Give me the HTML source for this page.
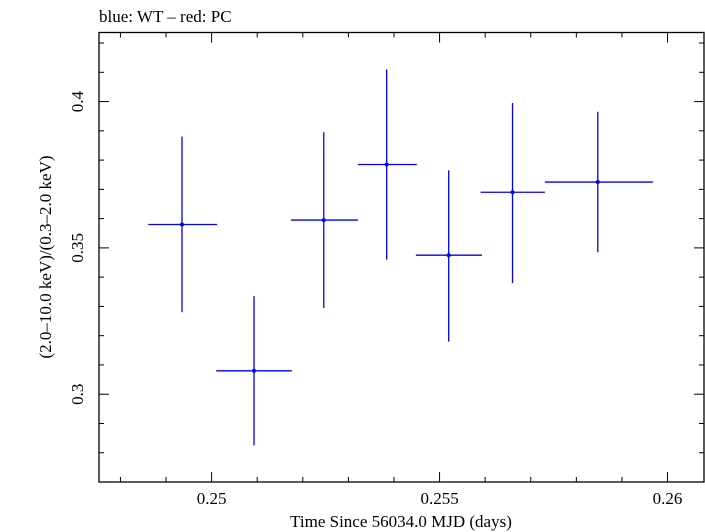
<!DOCTYPE html>
<html><head><meta charset="utf-8"><style>
body{margin:0;background:#fff}
svg{display:block;font-family:"Liberation Serif",serif}
</style></head><body>
<svg id="chart" width="705" height="532">
<text x="99" y="22" font-size="17">blue: WT – red: PC</text>
<rect x="99" y="32.5" width="605" height="449.5" fill="none" stroke="#000" stroke-width="1.3"/>
<g id="ticks"></g>
<g id="marks"></g>
<text x="401" y="527" font-size="17" text-anchor="middle">Time Since 56034.0 MJD (days)</text>
<text transform="translate(51,257) rotate(-90)" font-size="17" text-anchor="middle">(2.0–10.0 keV)/(0.3–2.0 keV)</text>
</svg>
<script>
const times=[0.24935,0.25093,0.25246,0.25384,0.25520,0.25660,0.25847];
const tLow=[0.24861,0.25010,0.25174,0.25321,0.25448,0.25590,0.25731];
const tHigh=[0.25012,0.25176,0.25321,0.25450,0.25593,0.25731,0.25968];
const ratios=[0.358,0.308,0.3595,0.3785,0.3475,0.369,0.3725];
const rLow=[0.328,0.2825,0.3295,0.346,0.318,0.338,0.3485];
const rHigh=[0.388,0.3335,0.3895,0.411,0.3765,0.3995,0.3965];
const xTickLabels=["0.25","0.255","0.26"];
const yTickLabels=["0.3","0.35","0.4"];
const X0=99,X1=704,Y0=482,Y1=32.5;
const xmin=0.24753,xmax=0.2608,ymin=0.27,ymax=0.4236;
const sx=v=>X0+(v-xmin)/(xmax-xmin)*(X1-X0);
const sy=v=>Y0-(v-ymin)/(ymax-ymin)*(Y0-Y1);
const NS="http://www.w3.org/2000/svg";
function mk(tag,attrs,parent){const e=document.createElementNS(NS,tag);for(const k in attrs)e.setAttribute(k,attrs[k]);parent.appendChild(e);return e;}
const tg=document.getElementById('ticks'),mg=document.getElementById('marks');
for(let i=248;i<=260;i++){const v=i/1000,x=sx(v);if(x<X0||x>X1)continue;const major=(i%5===0);const L=major?10:5;
 const a=mk('line',{x1:x,x2:x,y1:Y0,y2:Y0-L,stroke:'#000','stroke-width':1},tg);
 
 
 const b=mk('line',{x1:x,x2:x,y1:Y1,y2:Y1+L,stroke:'#000','stroke-width':1},tg);
 
 }
xTickLabels.forEach(s=>{const t=mk('text',{x:sx(parseFloat(s)),y:Y0+22,'font-size':17,'text-anchor':'middle'},tg);t.textContent=s;
 
 });
for(let i=28;i<=42;i++){const v=i/100,y=sy(v);if(y<Y1||y>Y0)continue;const major=(i%5===0);const L=major?10:5;
 const a=mk('line',{x1:X0,x2:X0+L,y1:y,y2:y,stroke:'#000','stroke-width':1},tg);
 
 
 const b=mk('line',{x1:X1,x2:X1-L,y1:y,y2:y,stroke:'#000','stroke-width':1},tg);
 
 }
yTickLabels.forEach(s=>{const y=sy(parseFloat(s));const t=mk('text',{transform:`translate(${X0-16},${y}) rotate(-90)`,'font-size':17,'text-anchor':'middle'},tg);t.textContent=s;
 
 });
times.forEach((t,i)=>{
 const g=mk('g',{},mg);
 
 
 mk('line',{x1:sx(tLow[i]),x2:sx(tHigh[i]),y1:sy(ratios[i]),y2:sy(ratios[i]),stroke:'#0000ff','stroke-width':1.3},g);
 mk('line',{x1:sx(t),x2:sx(t),y1:sy(rLow[i]),y2:sy(rHigh[i]),stroke:'#0000ff','stroke-width':1.3},g);
 mk('circle',{cx:sx(t),cy:sy(ratios[i]),r:2,fill:'#0000ff'},g);
});
</script>
</body></html>
